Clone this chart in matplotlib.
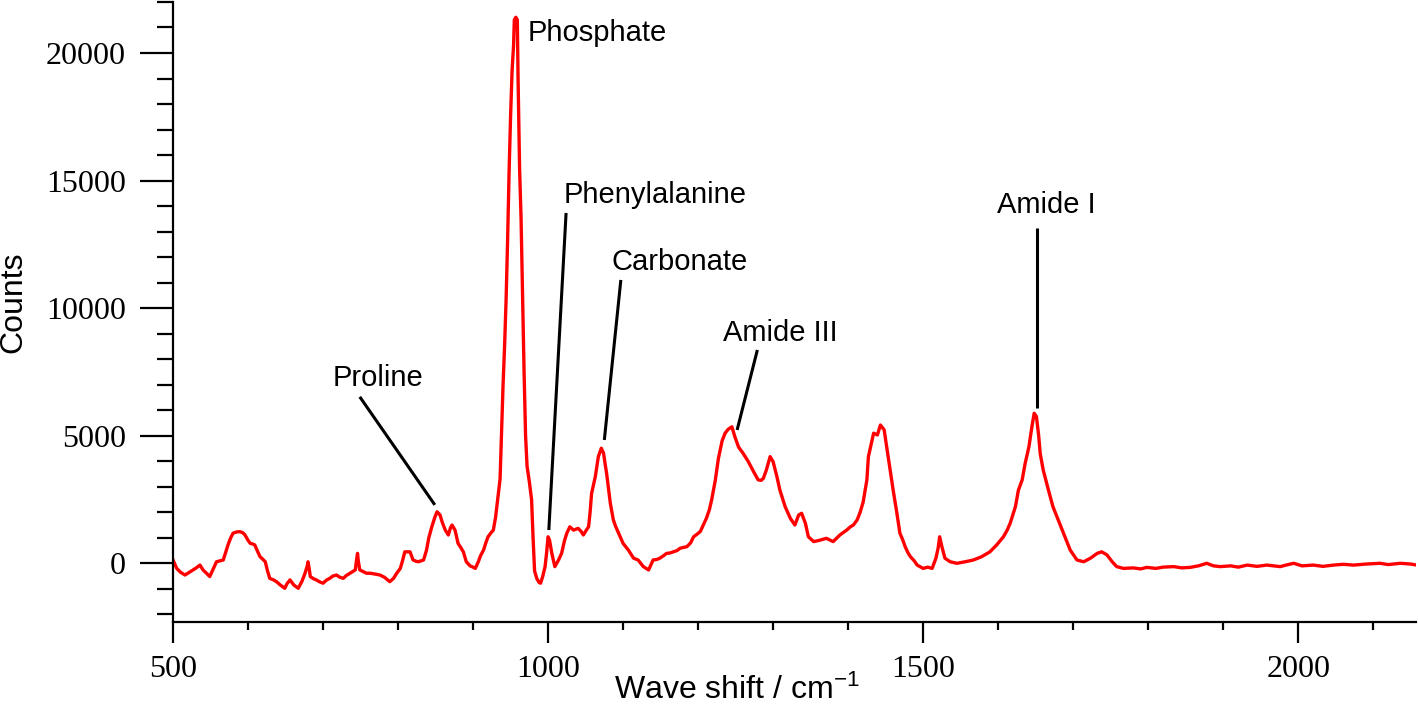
import matplotlib
matplotlib.use('Agg')
import matplotlib.pyplot as plt
from matplotlib.ticker import MultipleLocator

plt.rcParams['font.family'] = ['Liberation Sans', 'DejaVu Sans']
plt.rcParams['mathtext.fontset'] = 'custom'
plt.rcParams['mathtext.rm'] = 'Liberation Sans'
plt.rcParams['mathtext.default'] = 'regular'

# Raman spectrum (wave shift in cm-1, counts)
wave = [
    500, 505, 510, 516, 523, 530, 536, 540, 545, 549, 554, 558, 563, 567, 571,
    574, 577, 580, 585, 589, 593, 596, 600, 603, 606, 609, 613, 616, 620, 623,
    626, 629, 634, 638, 643, 649, 652, 656, 661, 667, 672, 676, 679, 680, 682,
    683, 687, 691, 695, 700, 705, 709, 713, 718, 722, 727, 731, 736, 740, 743,
    745, 746, 747, 749, 754, 758, 763, 769, 776, 782, 789, 794, 798, 803, 806,
    809, 813, 816, 820, 824, 827, 831, 834, 838, 841, 845, 849, 852, 856, 859,
    863, 867, 870, 872, 876, 880, 884, 887, 891, 896, 900, 903, 907, 910, 914,
    917, 920, 924, 927, 930, 932, 934, 936, 938, 940, 942, 944, 946, 948, 950,
    952, 954, 955, 957, 959, 960, 962, 964, 966, 968, 970, 972, 975, 978, 980,
    982, 985, 988, 990, 993, 996, 998, 1000, 1002, 1005, 1009, 1014, 1018, 1022,
    1025, 1029, 1034, 1040, 1044, 1047, 1051, 1054, 1056, 1058, 1063, 1067, 1071,
    1074, 1076, 1078, 1083, 1087, 1090, 1094, 1100, 1107, 1114, 1120, 1127, 1134,
    1140, 1145, 1149, 1154, 1158, 1162, 1167, 1172, 1176, 1180, 1185, 1190, 1194,
    1199, 1203, 1207, 1211, 1215, 1218, 1223, 1227, 1232, 1236, 1240, 1245, 1249,
    1254, 1260, 1267, 1274, 1280, 1284, 1287, 1291, 1296, 1300, 1305, 1309, 1316,
    1323, 1329, 1334, 1338, 1343, 1347, 1354, 1363, 1371, 1380, 1389, 1398, 1403,
    1407, 1412, 1416, 1420, 1425, 1427, 1431, 1434, 1439, 1443, 1448, 1452, 1456,
    1460, 1465, 1469, 1473, 1476, 1480, 1483, 1488, 1492, 1500, 1506, 1512, 1517,
    1520, 1522, 1525, 1529, 1536, 1545, 1556, 1567, 1578, 1589, 1598, 1607, 1612,
    1616, 1623, 1627, 1632, 1636, 1641, 1645, 1648, 1651, 1654, 1656, 1660, 1667,
    1673, 1680, 1689, 1696, 1705, 1714, 1723, 1732, 1738, 1745, 1752, 1758, 1767,
    1780, 1790, 1798, 1810, 1820, 1834, 1845, 1856, 1867, 1878, 1887, 1896, 1910,
    1920, 1932, 1945, 1958, 1967, 1976, 1985, 1994, 2005, 2020, 2033, 2047, 2060,
    2074, 2090, 2109, 2120, 2136, 2150, 2158,
]
counts = [
    130, -200, -350, -460, -330, -200, -70, -260, -400, -520, -200, 60, 100, 130, 500,
    780, 1000, 1180, 1230, 1240, 1200, 1110, 900, 780, 760, 720, 450, 260, 150, 60,
    -300, -590, -650, -720, -850, -980, -800, -650, -850, -980, -700, -390, -100, 60, -300,
    -520, -600, -650, -720, -780, -650, -590, -500, -460, -540, -590, -480, -390, -320, -260,
    200, 390, 100, -260, -330, -390, -390, -420, -460, -550, -720, -590, -400, -200, 100,
    450, 450, 450, 130, 80, 60, 100, 130, 520, 1000, 1430, 1800, 2020, 1890, 1600,
    1300, 1110, 1400, 1500, 1300, 780, 600, 450, 60, -100, -150, -200, 60, 300, 520,
    800, 1040, 1200, 1300, 1800, 2290, 2800, 3300, 5200, 7000, 8500, 10300, 12600, 15300, 17500,
    19300, 20300, 21300, 21400, 21300, 19000, 15500, 13500, 10500, 7500, 5000, 3800, 3200, 2500, 1000,
    -300, -600, -750, -780, -500, -130, 400, 1040, 900, 390, -130, 130, 390, 900,
    1180, 1430, 1300, 1370, 1250, 1110, 1300, 1430, 2000, 2740, 3400, 4180, 4510,
    4310, 3900, 3530, 2350, 1700, 1450, 1180, 780, 520, 200, 130, -130, -260,
    130, 150, 200, 300, 390, 400, 450, 500, 590, 620, 650, 800, 1040,
    1150, 1250, 1500, 1760, 2100, 2480, 3270, 4100, 4800, 5100, 5250, 5350, 4960,
    4550, 4310, 3980, 3590, 3270, 3250, 3330, 3660, 4180, 3980, 3400, 2870, 2220,
    1760, 1500, 1890, 1960, 1570, 1040, 850, 910, 980, 850, 1110, 1300, 1430,
    1500, 1700, 2000, 2400, 3270, 4180, 4700, 5100, 5030, 5420, 5230, 4440, 3660,
    2870, 1960, 1180, 900, 650, 400, 260, 100, -70, -200, -150, -200, 200,
    600, 1040, 650, 200, 60, 0, 60, 130, 260, 450, 720, 1040, 1300,
    1570, 2220, 2870, 3270, 3920, 4570, 5360, 5880, 5750, 5000, 4310, 3660, 2870,
    2220, 1700, 1040, 520, 130, 60, 200, 390, 450, 330, 60, -130, -200,
    -180, -220, -160, -200, -150, -130, -180, -160, -100, 0, -100, -130, -100,
    -150, -70, -120, -70, -100, -130, -60, 0, -100, -70, -120, -70, -40,
    -70, -30, 0, -50, 0, -30, -70,
]

# peak labels: text centre and the leader line (start, end) in data units
labels = ['Proline', 'Phosphate', 'Phenylalanine', 'Carbonate', 'Amide III', 'Amide I']
text_x = [773, 973, 1143, 1175, 1309, 1664]
text_y = [7264, 20790, 14440, 11810, 9030, 14050]
text_ha = ['center', 'left', 'center', 'center', 'center', 'center']
line_x0 = [749, None, 1024, 1097, 1279, 1652]
line_y0 = [6525, None, 13730, 11105, 8362, 13143]
line_x1 = [849, None, 1001, 1075, 1252, 1652]
line_y1 = [2290, None, 1305, 4834, 5226, 6087]


def main():
    fig = plt.figure(figsize=(14.18, 7.04), dpi=100)
    ax = fig.add_axes([0.122, 0.1165, 0.8766, 0.8807])

    ax.plot(wave, counts, color='#ff0000', lw=2.4)

    for i, lab in enumerate(labels):
        ax.text(text_x[i], text_y[i], lab, ha=text_ha[i], va='center', fontsize=21)
        if line_x0[i] is not None:
            ax.plot([line_x0[i], line_x1[i]], [line_y0[i], line_y1[i]],
                    color='black', lw=2.2, solid_capstyle='butt')

    ax.set_xlim(500, 2157)
    ax.set_ylim(-2300, 22000)

    for side in ['top', 'right']:
        ax.spines[side].set_visible(False)
    for side in ['left', 'bottom']:
        ax.spines[side].set_linewidth(1.6)

    ax.xaxis.set_major_locator(MultipleLocator(500))
    ax.xaxis.set_minor_locator(MultipleLocator(100))
    ax.yaxis.set_major_locator(MultipleLocator(5000))
    ax.yaxis.set_minor_locator(MultipleLocator(1000))

    ax.tick_params(axis='x', which='major', direction='out', length=15, width=1.6, pad=9)
    ax.tick_params(axis='x', which='minor', direction='out', length=6, width=1.6)
    ax.tick_params(axis='y', which='major', direction='out', length=24, width=1.6, pad=10)
    ax.tick_params(axis='y', which='minor', direction='out', length=11.5, width=1.6)
    for t in ax.get_xticklabels() + ax.get_yticklabels():
        t.set_fontfamily('Liberation Serif')
        t.set_fontsize(23)

    ax.set_xlabel('Wave shift / cm$^{-1}$', fontsize=23)
    ax.set_ylabel('Counts', fontsize=23)
    ax.xaxis.set_label_coords(0.4537, -0.085)
    ax.yaxis.set_label_coords(-0.116, 0.516)

    fig.savefig('out.png', dpi=100)
    print('Saved to out.png')


if __name__ == '__main__':
    main()
